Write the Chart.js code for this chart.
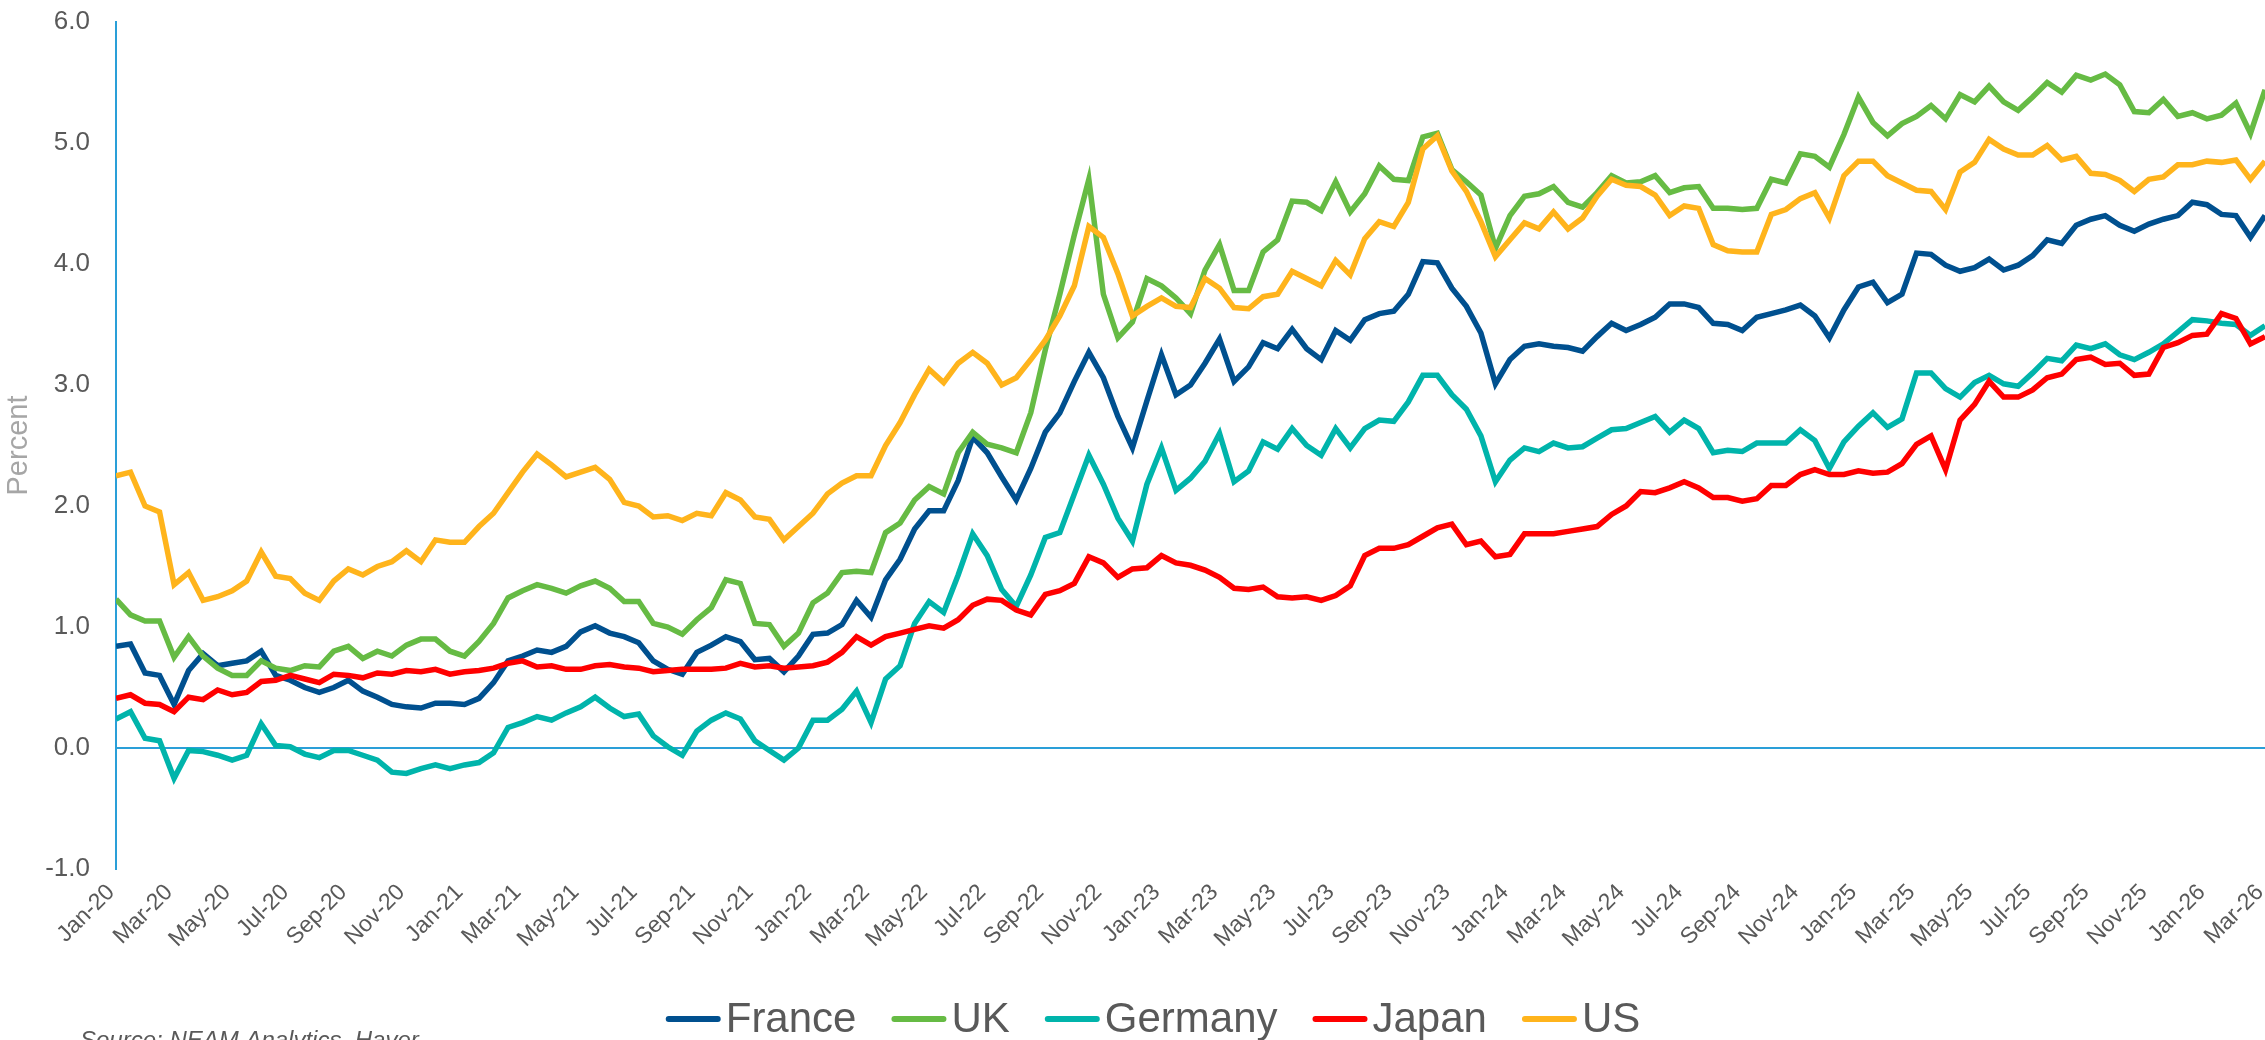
<!DOCTYPE html>
<html lang="en">
<head>
  <meta charset="UTF-8">
  <title>10-year government bond yields</title>
  <script src="https://cdn.jsdelivr.net/npm/chart.js"></script>
  <style>
    html, body { margin: 0; padding: 0; background: #fff; }
    canvas { display: block; }
  </style>
</head>
<body>
  <canvas id="yieldChart" width="2265" height="1040"></canvas>
  <script>
    // half-monthly readings, Jan-20 to Mar-26 (one row per year)
    const france = [
      0.84,0.86,0.62,0.60,0.36,0.64,0.78,0.68,0.70,0.72,0.80,0.60,0.56,0.50,0.46,0.50,0.56,0.47,0.42,0.36,0.34,0.33,0.37,0.37,
      0.36,0.41,0.54,0.72,0.76,0.81,0.79,0.84,0.96,1.01,0.95,0.92,0.87,0.72,0.65,0.61,0.79,0.85,0.92,0.88,0.73,0.74,0.63,0.76,
      0.94,0.95,1.02,1.22,1.08,1.39,1.56,1.81,1.96,1.96,2.21,2.57,2.44,2.24,2.05,2.31,2.61,2.77,3.03,3.27,3.06,2.74,2.48,2.87,
      3.25,2.92,3.00,3.18,3.38,3.03,3.15,3.35,3.30,3.46,3.30,3.21,3.45,3.37,3.54,3.59,3.61,3.75,4.02,4.01,3.80,3.65,3.43,3.01,
      3.21,3.32,3.34,3.32,3.31,3.28,3.40,3.51,3.45,3.50,3.56,3.67,3.67,3.64,3.51,3.50,3.45,3.56,3.59,3.62,3.66,3.57,3.39,3.62,
      3.81,3.85,3.68,3.75,4.09,4.08,3.99,3.94,3.97,4.04,3.95,3.99,4.07,4.20,4.17,4.32,4.37,4.40,4.32,4.27,4.33,4.37,4.40,4.51,
      4.49,4.41,4.40,4.22,4.40
    ];
    const uk = [
      1.23,1.10,1.05,1.05,0.75,0.92,0.76,0.66,0.60,0.60,0.72,0.66,0.64,0.68,0.67,0.80,0.84,0.74,0.80,0.76,0.85,0.90,0.90,0.80,
      0.76,0.88,1.03,1.24,1.30,1.35,1.32,1.28,1.34,1.38,1.32,1.21,1.21,1.03,1.00,0.94,1.06,1.16,1.39,1.36,1.03,1.02,0.84,0.95,
      1.20,1.28,1.45,1.46,1.45,1.78,1.86,2.05,2.16,2.10,2.44,2.61,2.51,2.48,2.44,2.77,3.29,3.75,4.24,4.70,3.75,3.39,3.52,3.88,
      3.82,3.72,3.59,3.95,4.16,3.78,3.78,4.10,4.20,4.52,4.51,4.44,4.68,4.43,4.58,4.81,4.70,4.69,5.05,5.08,4.78,4.68,4.57,4.13,
      4.40,4.56,4.58,4.64,4.51,4.47,4.59,4.73,4.67,4.68,4.73,4.59,4.63,4.64,4.46,4.46,4.45,4.46,4.70,4.67,4.91,4.89,4.80,5.07,
      5.38,5.17,5.06,5.16,5.22,5.31,5.20,5.40,5.34,5.47,5.34,5.27,5.38,5.50,5.42,5.56,5.52,5.57,5.48,5.26,5.25,5.36,5.22,5.25,
      5.20,5.23,5.33,5.08,5.44
    ];
    const germany = [
      0.24,0.30,0.08,0.06,-0.25,-0.02,-0.03,-0.06,-0.10,-0.06,0.20,0.02,0.01,-0.05,-0.08,-0.02,-0.02,-0.06,-0.10,-0.20,-0.21,-0.17,-0.14,-0.17,
      -0.14,-0.12,-0.04,0.17,0.21,0.26,0.23,0.29,0.34,0.42,0.33,0.26,0.28,0.10,0.01,-0.06,0.14,0.23,0.29,0.24,0.06,-0.02,-0.10,0.00,
      0.23,0.23,0.32,0.47,0.21,0.57,0.68,1.03,1.21,1.12,1.43,1.77,1.59,1.31,1.17,1.43,1.74,1.78,2.10,2.42,2.18,1.90,1.71,2.18,
      2.48,2.13,2.23,2.37,2.60,2.20,2.29,2.53,2.47,2.64,2.50,2.42,2.64,2.48,2.64,2.71,2.70,2.86,3.08,3.08,2.92,2.80,2.58,2.20,
      2.38,2.48,2.45,2.52,2.48,2.49,2.56,2.63,2.64,2.69,2.74,2.61,2.71,2.64,2.44,2.46,2.45,2.52,2.52,2.52,2.63,2.54,2.31,2.53,
      2.66,2.77,2.65,2.72,3.10,3.10,2.97,2.90,3.02,3.08,3.01,2.99,3.10,3.22,3.20,3.33,3.30,3.34,3.25,3.21,3.27,3.34,3.44,3.54,
      3.53,3.51,3.50,3.41,3.49
    ];
    const japan = [
      0.41,0.44,0.37,0.36,0.30,0.42,0.40,0.48,0.44,0.46,0.55,0.56,0.60,0.57,0.54,0.61,0.60,0.58,0.62,0.61,0.64,0.63,0.65,0.61,
      0.63,0.64,0.66,0.70,0.72,0.67,0.68,0.65,0.65,0.68,0.69,0.67,0.66,0.63,0.64,0.65,0.65,0.65,0.66,0.70,0.67,0.68,0.66,0.67,
      0.68,0.71,0.79,0.92,0.85,0.92,0.95,0.98,1.01,0.99,1.06,1.18,1.23,1.22,1.14,1.10,1.27,1.30,1.36,1.58,1.53,1.41,1.48,1.49,
      1.59,1.53,1.51,1.47,1.41,1.32,1.31,1.33,1.25,1.24,1.25,1.22,1.26,1.34,1.59,1.65,1.65,1.68,1.75,1.82,1.85,1.68,1.71,1.58,
      1.60,1.77,1.77,1.77,1.79,1.81,1.83,1.93,2.00,2.12,2.11,2.15,2.20,2.15,2.07,2.07,2.04,2.06,2.17,2.17,2.26,2.30,2.26,2.26,
      2.29,2.27,2.28,2.35,2.51,2.58,2.30,2.71,2.84,3.03,2.90,2.90,2.96,3.06,3.09,3.21,3.23,3.17,3.18,3.08,3.09,3.31,3.35,3.41,
      3.42,3.59,3.55,3.34,3.40
    ];
    const us = [
      2.25,2.28,2.00,1.95,1.35,1.45,1.22,1.25,1.30,1.38,1.62,1.42,1.40,1.28,1.22,1.38,1.48,1.43,1.50,1.54,1.63,1.54,1.72,1.70,
      1.70,1.83,1.94,2.11,2.28,2.43,2.34,2.24,2.28,2.32,2.22,2.03,2.00,1.91,1.92,1.88,1.94,1.92,2.11,2.05,1.91,1.89,1.72,1.83,
      1.94,2.10,2.19,2.25,2.25,2.50,2.69,2.92,3.13,3.02,3.18,3.27,3.18,3.00,3.06,3.21,3.37,3.57,3.82,4.31,4.22,3.92,3.57,3.65,
      3.72,3.65,3.64,3.88,3.80,3.64,3.63,3.73,3.75,3.94,3.88,3.82,4.03,3.91,4.21,4.35,4.31,4.51,4.95,5.06,4.77,4.60,4.35,4.06,
      4.20,4.34,4.29,4.43,4.29,4.38,4.56,4.70,4.65,4.64,4.57,4.40,4.48,4.46,4.16,4.11,4.10,4.10,4.41,4.45,4.54,4.59,4.38,4.73,
      4.85,4.85,4.73,4.67,4.61,4.60,4.45,4.76,4.84,5.03,4.95,4.90,4.90,4.98,4.86,4.89,4.75,4.74,4.69,4.60,4.70,4.72,4.82,4.82,
      4.85,4.84,4.86,4.70,4.85
    ];

    // axis labels, one every two months
    const tickLabels = [
      'Jan-20','Mar-20','May-20','Jul-20','Sep-20','Nov-20',
      'Jan-21','Mar-21','May-21','Jul-21','Sep-21','Nov-21',
      'Jan-22','Mar-22','May-22','Jul-22','Sep-22','Nov-22',
      'Jan-23','Mar-23','May-23','Jul-23','Sep-23','Nov-23',
      'Jan-24','Mar-24','May-24','Jul-24','Sep-24','Nov-24',
      'Jan-25','Mar-25','May-25','Jul-25','Sep-25','Nov-25',
      'Jan-26','Mar-26'
    ];

    const FONT = '"Liberation Sans", Arial, sans-serif';
    const TEXT_GREY = '#595959';
    const AXIS_BLUE = '#2a9fd8';

    // x is months since Jan-20, readings are two per month
    function toPoints(values) {
      return values.map((v, i) => ({ x: i / 2, y: v }));
    }

    const series = [
      { label: 'France',  values: france,  color: '#00508f' },
      { label: 'UK',      values: uk,      color: '#66bb44' },
      { label: 'Germany', values: germany, color: '#00b4ab' },
      { label: 'Japan',   values: japan,   color: '#ff0000' },
      { label: 'US',      values: us,      color: '#ffb41c' }
    ];

    // legend drawn by hand: short thick line, tight gap, big text
    const bottomLegend = {
      id: 'bottomLegend',
      afterDraw(chart) {
        const ctx = chart.ctx;
        ctx.save();
        ctx.font = '42px ' + FONT;
        const lineLen = 55, textGap = 5, itemGap = 35;
        const items = chart.data.datasets.map(ds => ({
          ds, width: lineLen + textGap + ctx.measureText(ds.label).width
        }));
        const total = items.reduce((s, it) => s + it.width, 0) + itemGap * (items.length - 1);
        let x = 1153 - total / 2;
        items.forEach(it => {
          ctx.strokeStyle = it.ds.borderColor;
          ctx.lineWidth = 6;
          ctx.lineCap = 'round';
          ctx.beginPath();
          ctx.moveTo(x + 3, 1019);
          ctx.lineTo(x + lineLen - 3, 1019);
          ctx.stroke();
          ctx.fillStyle = TEXT_GREY;
          ctx.textBaseline = 'alphabetic';
          ctx.fillText(it.ds.label, x + lineLen + textGap, 1032);
          x += it.width + itemGap;
        });

        ctx.font = 'italic 24px ' + FONT;
        ctx.fillStyle = TEXT_GREY;
        ctx.fillText('Source: NEAM Analytics, Haver', 80, 1048);
        ctx.restore();
      }
    };

    const ctx = document.getElementById('yieldChart').getContext('2d');
    new Chart(ctx, {
      type: 'line',
      data: {
        datasets: series.map((s, i) => ({
          label: s.label,
          data: toPoints(s.values),
          borderColor: s.color,
          backgroundColor: s.color,
          borderWidth: 5.5,
          pointRadius: 0,
          tension: 0,
          order: series.length - 1 - i   // later series sit on top
        }))
      },
      options: {
        responsive: false,
        animation: false,
        layout: { padding: { top: 22, right: 0, bottom: 60, left: 0 } },
        plugins: {
          legend: { display: false },
          tooltip: { enabled: false }
        },
        scales: {
          x: {
            type: 'linear',
            min: 0,
            max: 74,
            grid: { display: false, drawTicks: false },
            border: { display: false },
            afterBuildTicks: scale => {
              scale.ticks = tickLabels.map((_, i) => ({ value: i * 2 }));
            },
            // plot runs right to the canvas edge
            afterFit: scale => {
              scale.height = 111;
              scale.paddingLeft = 0;
              scale.paddingRight = 0;
            },
            ticks: {
              autoSkip: false,
              minRotation: 45,
              maxRotation: 45,
              padding: 10,
              labelOffset: -5,
              color: TEXT_GREY,
              font: { family: FONT, size: 23 },
              callback: value => tickLabels[value / 2]
            }
          },
          y: {
            min: -1,
            max: 6,
            afterFit: scale => {
              scale.width = 116;
              scale.paddingTop = 0;
              scale.paddingBottom = 0;
            },
            grid: {
              drawTicks: false,
              lineWidth: 2,
              color: c => (c.tick && c.tick.value === 0 ? AXIS_BLUE : 'rgba(0,0,0,0)')
            },
            border: { display: true, color: AXIS_BLUE, width: 2 },
            ticks: {
              stepSize: 1,
              padding: 26,
              color: TEXT_GREY,
              font: { family: FONT, size: 26 },
              callback: value => value.toFixed(1)
            },
            title: {
              display: true,
              text: 'Percent',
              color: '#a6a6a6',
              font: { family: FONT, size: 29 },
              padding: { top: 2, bottom: 0 }
            }
          }
        }
      },
      plugins: [bottomLegend]
    });
  </script>
</body>
</html>
